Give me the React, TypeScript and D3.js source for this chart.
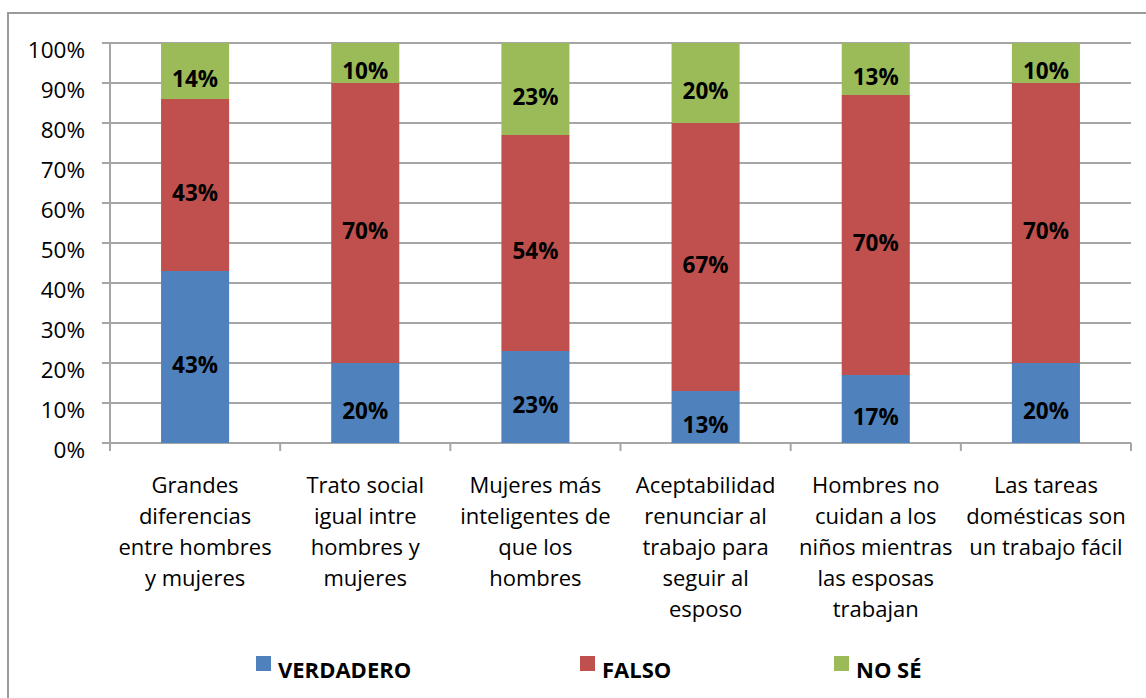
import React, { useEffect, useRef } from 'react';
import * as d3 from 'd3';

const categories = [
  'Grandes diferencias entre hombres y mujeres',
  'Trato social igual intre hombres y mujeres',
  'Mujeres más inteligentes de que los hombres',
  'Aceptabilidad renunciar al trabajo para seguir al esposo',
  'Hombres no cuidan a los niños mientras las esposas trabajan',
  'Las tareas domésticas son un trabajo fácil',
];

// line breaks as they appear under the axis
const categoryLines = [
  ['Grandes', 'diferencias', 'entre hombres', 'y mujeres'],
  ['Trato social', 'igual intre', 'hombres y', 'mujeres'],
  ['Mujeres más', 'inteligentes de', 'que los', 'hombres'],
  ['Aceptabilidad', 'renunciar al', 'trabajo para', 'seguir al', 'esposo'],
  ['Hombres no', 'cuidan a los', 'niños mientras', 'las esposas', 'trabajan'],
  ['Las tareas', 'domésticas son', 'un trabajo fácil'],
];

const seriesNames = ['VERDADERO', 'FALSO', 'NO SÉ'];
const verdadero = [43, 20, 23, 13, 17, 20];
const falso = [43, 70, 54, 67, 70, 70];
const noSe = [14, 10, 23, 20, 13, 10];

const yTicks = [0, 10, 20, 30, 40, 50, 60, 70, 80, 90, 100];

const App = () => {
  const svgRef = useRef<SVGSVGElement | null>(null);

  const colors = {
    verdadero: '#4f81bd',
    falso: '#c0504d',
    noSe: '#9bbb59',
    grid: '#a6a6a6',
    border: '#9a9a9a',
    text: '#000000',
  };

  useEffect(() => {
    const svgEl = svgRef.current;
    if (!svgEl) return;

    const width = 1146;
    const height = 698;
    const margin = { top: 43, right: 15, bottom: 255, left: 110 };
    const font = '"Open Sans", Lato, sans-serif';

    const svg = d3.select(svgEl);
    svg.selectAll('*').remove();
    svg.attr('viewBox', `0 0 ${width} ${height}`);

    // outer frame
    svg
      .append('rect')
      .attr('x', 8)
      .attr('y', 13)
      .attr('width', width + 20)
      .attr('height', height + 20)
      .attr('fill', '#ffffff')
      .attr('stroke', colors.border)
      .attr('stroke-width', 2);

    const innerW = width - margin.left - margin.right;
    const innerH = height - margin.top - margin.bottom;
    const g = svg.append('g').attr('transform', `translate(${margin.left},${margin.top})`);

    const x = d3.scaleBand().domain(categories).range([0, innerW]).paddingInner(0.6).paddingOuter(0.3);
    const y = d3.scaleLinear().domain([0, 100]).range([innerH, 0]);

    // grid lines + left ticks
    g.append('g')
      .selectAll('line')
      .data(yTicks)
      .enter()
      .append('line')
      .attr('x1', -8)
      .attr('x2', innerW)
      .attr('y1', (d) => y(d))
      .attr('y2', (d) => y(d))
      .attr('stroke', colors.grid)
      .attr('stroke-width', 2);

    // y tick labels
    g.append('g')
      .selectAll('text')
      .data(yTicks)
      .enter()
      .append('text')
      .attr('x', -25)
      .attr('y', (d) => y(d) + 15)
      .attr('text-anchor', 'end')
      .attr('font-family', font)
      .attr('font-size', 22.5)
      .attr('fill', colors.text)
      .text((d) => `${d}%`);

    // y axis line
    g.append('line')
      .attr('x1', 0)
      .attr('x2', 0)
      .attr('y1', 0)
      .attr('y2', innerH + 8)
      .attr('stroke', colors.grid)
      .attr('stroke-width', 2);

    // category boundary ticks
    const step = x.step();
    const boundaries = d3.range(categories.length + 1).map((i) => i * step);
    g.append('g')
      .selectAll('line')
      .data(boundaries)
      .enter()
      .append('line')
      .attr('x1', (d) => d)
      .attr('x2', (d) => d)
      .attr('y1', innerH)
      .attr('y2', innerH + 8)
      .attr('stroke', colors.grid)
      .attr('stroke-width', 2);

    // stacked data
    const rows = categories.map((c, i) => ({
      cat: c,
      VERDADERO: verdadero[i],
      FALSO: falso[i],
      'NO SÉ': noSe[i],
    }));
    const stack = d3.stack<any>().keys(seriesNames)(rows);
    const fills = [colors.verdadero, colors.falso, colors.noSe];

    stack.forEach((layer, li) => {
      const lg = g.append('g');
      lg.selectAll('rect')
        .data(layer)
        .enter()
        .append('rect')
        .attr('x', (d) => x(d.data.cat) ?? 0)
        .attr('y', (d) => y(d[1]))
        .attr('width', x.bandwidth())
        .attr('height', (d) => y(d[0]) - y(d[1]))
        .attr('fill', fills[li]);

      lg.selectAll('text')
        .data(layer)
        .enter()
        .append('text')
        .attr('x', (d) => (x(d.data.cat) ?? 0) + x.bandwidth() / 2)
        .attr('y', (d) => (y(d[0]) + y(d[1])) / 2 + 16)
        .attr('text-anchor', 'middle')
        .attr('font-family', font)
        .attr('font-size', 22.5)
        .attr('font-weight', 700)
        .attr('fill', colors.text)
        .text((d) => `${d[1] - d[0]}%`);
    });

    // category labels
    const labels = g.append('g');
    categories.forEach((c, i) => {
      const t = labels
        .append('text')
        .attr('text-anchor', 'middle')
        .attr('font-family', font)
        .attr('font-size', 22)
        .attr('fill', colors.text);
      categoryLines[i].forEach((line, li) => {
        t.append('tspan')
          .attr('x', (x(c) ?? 0) + x.bandwidth() / 2)
          .attr('y', innerH + 50 + li * 31)
          .text(line);
      });
    });

    // legend
    const legendX = [256, 580, 834];
    const legend = svg.append('g');
    seriesNames.forEach((name, i) => {
      legend
        .append('rect')
        .attr('x', legendX[i])
        .attr('y', 656)
        .attr('width', 15)
        .attr('height', 15)
        .attr('fill', fills[i]);
      legend
        .append('text')
        .attr('x', legendX[i] + 22)
        .attr('y', 678)
        .attr('font-family', font)
        .attr('font-size', 22)
        .attr('font-weight', 700)
        .attr('fill', colors.text)
        .text(name);
    });
  }, []);

  return (
    <svg
      ref={svgRef}
      width={1146}
      height={698}
      style={{ position: 'absolute', left: 0, top: 0, display: 'block', background: '#ffffff' }}
    />
  );
};

export default App;
